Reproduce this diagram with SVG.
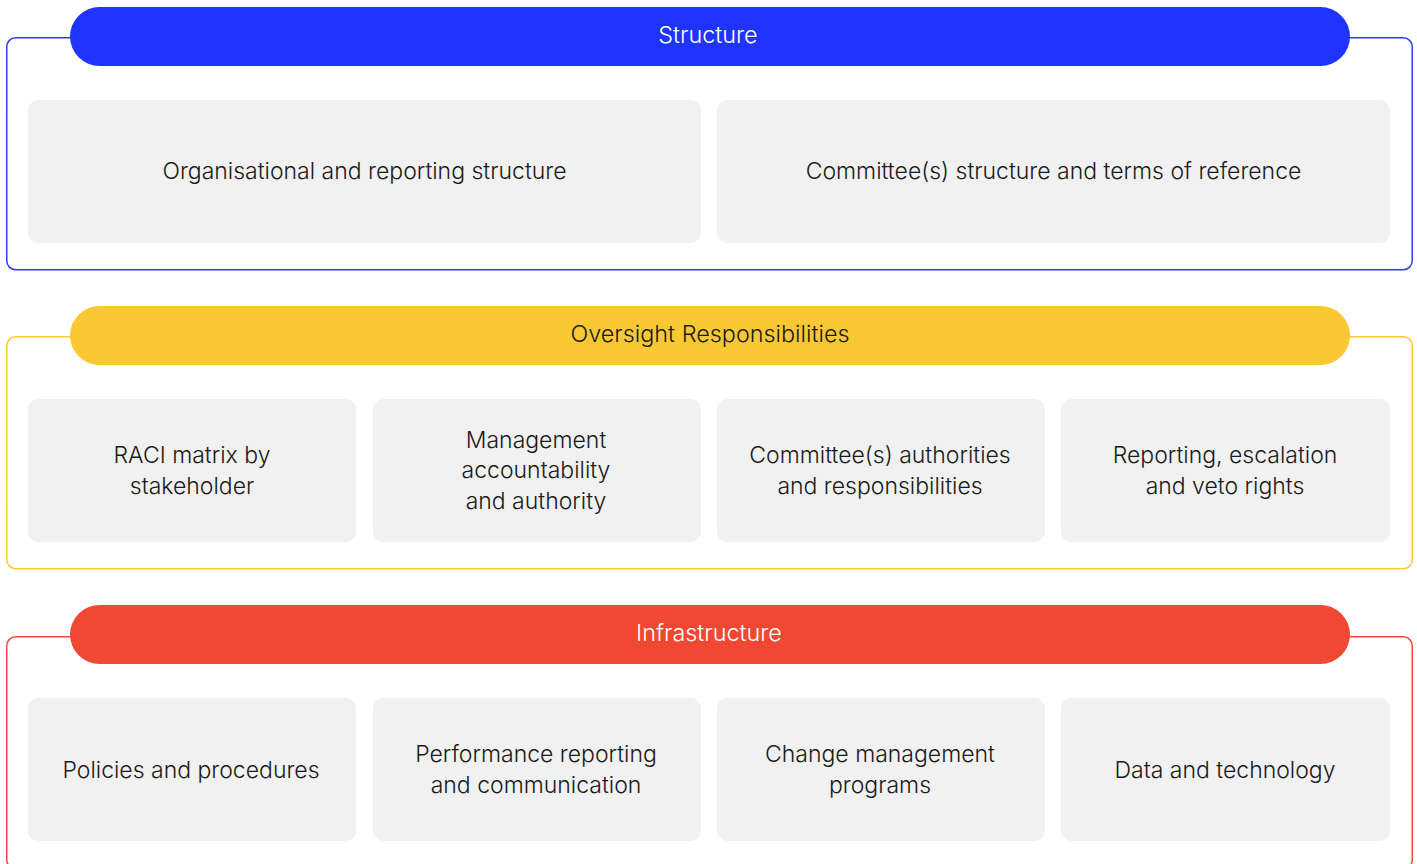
<svg xmlns="http://www.w3.org/2000/svg" width="1417" height="864" viewBox="0 0 1417 864">
<style>
.frame{fill:none;stroke-width:1.5}
.card{fill:#f1f1f1}
.t{font-family:Inter,"Liberation Sans",sans-serif;font-size:23px;font-weight:300;fill:#1a1a1a;text-anchor:middle}
.h{font-family:Inter,"Liberation Sans",sans-serif;font-size:23.4px;font-weight:300;text-anchor:middle}
</style>
<rect width="1417" height="864" fill="#ffffff"/>
<g id="structure">
<rect class="frame" x="6.75" y="37.75" width="1405.5" height="232" rx="9" stroke="#2b3cff"/>
<rect x="70" y="7" width="1280" height="59" rx="29.5" fill="#1f35ff"/>
<text class="h" x="708" y="43" fill="#ffffff">Structure</text>
<g id="s1"><rect class="card" x="28" y="100" width="673" height="143" rx="10"/><text class="t" x="364.5" y="179">Organisational and reporting structure</text></g>
<g id="s2"><rect class="card" x="717" y="100" width="673" height="143" rx="10"/><text class="t" x="1053.5" y="179">Committee(s) structure and terms of reference</text></g>
</g>
<g id="oversight">
<rect class="frame" x="6.75" y="336.75" width="1405.5" height="232" rx="9" stroke="#f9c93a"/>
<rect x="70" y="306" width="1280" height="59" rx="29.5" fill="#f9c833"/>
<text class="h" x="710" y="342" fill="#1a1a1a">Oversight Responsibilities</text>
<g id="o1"><rect class="card" x="28" y="399" width="328" height="143" rx="10"/><text class="t" x="192" y="463">RACI matrix by</text><text class="t" x="192" y="494">stakeholder</text></g>
<g id="o2"><rect class="card" x="373" y="399" width="328" height="143" rx="10"/><text class="t" x="536" y="448">Management</text><text class="t" x="536" y="478">accountability</text><text class="t" x="536" y="509">and authority</text></g>
<g id="o3"><rect class="card" x="717" y="399" width="328" height="143" rx="10"/><text class="t" x="880" y="463">Committee(s) authorities</text><text class="t" x="880" y="494">and responsibilities</text></g>
<g id="o4"><rect class="card" x="1061" y="399" width="329" height="143" rx="10"/><text class="t" x="1225" y="463">Reporting, escalation</text><text class="t" x="1225" y="494">and veto rights</text></g>
</g>
<g id="infrastructure">
<rect class="frame" x="6.75" y="636.75" width="1405.5" height="232" rx="9" stroke="#f04a36"/>
<rect x="70" y="605" width="1280" height="59" rx="29.5" fill="#f04832"/>
<text class="h" x="709" y="641" fill="#ffffff">Infrastructure</text>
<g id="i1"><rect class="card" x="28" y="698" width="328" height="143" rx="10"/><text class="t" x="191" y="778">Policies and procedures</text></g>
<g id="i2"><rect class="card" x="373" y="698" width="328" height="143" rx="10"/><text class="t" x="536" y="762">Performance reporting</text><text class="t" x="536" y="793">and communication</text></g>
<g id="i3"><rect class="card" x="717" y="698" width="328" height="143" rx="10"/><text class="t" x="880" y="762">Change management</text><text class="t" x="880" y="793">programs</text></g>
<g id="i4"><rect class="card" x="1061" y="698" width="329" height="143" rx="10"/><text class="t" x="1225" y="778">Data and technology</text></g>
</g>
<g id="connectors"></g>
</svg>
